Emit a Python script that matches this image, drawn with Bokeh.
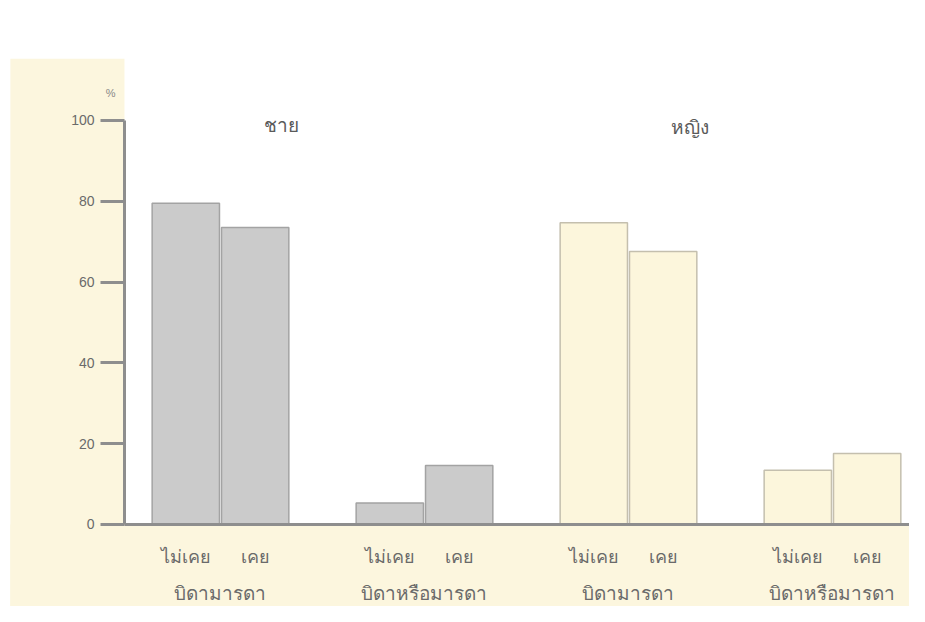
from bokeh.plotting import figure
from bokeh.models import ColumnDataSource, LabelSet, FixedTicker, Range1d, BoxAnnotation
from bokeh.core.properties import value
from bokeh.embed import file_html
from bokeh.resources import INLINE

# ---- data ----
sex = ["ชาย", "ชาย", "หญิง", "หญิง"]
parent_labels = ["บิดามารดา", "บิดาหรือมารดา", "บิดามารดา", "บิดาหรือมารดา"]
bar_labels = ["ไม่เคย", "เคย"]
never = [79.5, 5.3, 74.7, 13.4]
ever = [73.5, 14.6, 67.6, 17.6]
y_ticks = [0, 20, 40, 60, 80, 100]
sex_titles = ["ชาย", "หญิง"]
unit_label = ["%"]

# ---- styles ----
CREAM = "#fcf6de"
GREY_FILL = "#cbcbcb"
GREY_LINE = "#a3a3a3"
CREAM_FILL = "#fcf6dc"
CREAM_LINE = "#c4bfae"
AXIS = "#8e8e8e"
TEXT = "#6a6a6a"
FONT = "Liberation Sans"
THAI = "Noto Sans"

X0 = -0.4706  # where the y axis sits

group_idx = list(range(len(never)))
offset = 0.17
bw = 0.33

xs, tops, fills, lines, blabels = [], [], [], [], []
for g in group_idx:
    female = sex[g] == "หญิง"
    for k, val in enumerate([never[g], ever[g]]):
        xs.append(g + (-offset if k == 0 else offset))
        tops.append(val)
        fills.append(CREAM_FILL if female else GREY_FILL)
        lines.append(CREAM_LINE if female else GREY_LINE)
        blabels.append(bar_labels[k])

src = ColumnDataSource(dict(x=xs, top=tops, fill=fills, line=lines, lab=blabels,
                            ly=[-7.7] * len(xs)))
gsrc = ColumnDataSource(dict(x=group_idx, lab=parent_labels, ly=[-16.9] * len(group_idx)))
tsrc = ColumnDataSource(dict(x=[0.30, 2.30], y=[98.8, 98.3], lab=sex_titles))
usrc = ColumnDataSource(dict(x=[-0.539], y=[106.9], lab=unit_label))

p = figure(width=909, height=606, output_backend="svg", toolbar_location=None,
           x_range=Range1d(-1.0784, 3.3775), y_range=Range1d(-20.30, 129.70),
           min_border=0)
p.title = None
p.background_fill_color = "white"
p.border_fill_color = "white"
p.outline_line_color = None
p.grid.visible = False

# cream paper areas
p.add_layout(BoxAnnotation(left=-1.03, right=X0, top=115.3, fill_color=CREAM, fill_alpha=1,
                           line_color=None, level="underlay"))
p.add_layout(BoxAnnotation(left=-1.03, top=0, fill_color=CREAM, fill_alpha=1,
                           line_color=None, level="underlay"))

p.vbar(x="x", top="top", width=bw, source=src, fill_color="fill", line_color="line",
       line_width=1.5)

# y axis
ya = p.yaxis[0]
ya.fixed_location = X0
ya.ticker = FixedTicker(ticks=y_ticks)
ya.bounds = (0, 100)
ya.axis_line_color = AXIS
ya.axis_line_width = 3
ya.major_tick_line_color = AXIS
ya.major_tick_line_width = 3
ya.major_tick_out = 24
ya.major_tick_in = 0
ya.minor_tick_line_color = None
ya.major_label_standoff = 6
ya.major_label_text_font = FONT
ya.major_label_text_font_size = "14px"
ya.major_label_text_color = TEXT

# x axis (line only)
xa = p.xaxis[0]
xa.fixed_location = 0
xa.bounds = (X0, 3.3775)
xa.ticker = FixedTicker(ticks=[])
xa.axis_line_color = AXIS
xa.axis_line_width = 3
xa.major_tick_line_color = None
xa.minor_tick_line_color = None
xa.major_label_text_font_size = "0px"

p.add_layout(LabelSet(x="x", y="ly", text="lab", source=src, text_align="center",
                      text_baseline="middle", text_font=value(THAI),
                      text_font_size="18px", text_color=TEXT))
p.add_layout(LabelSet(x="x", y="ly", text="lab", source=gsrc, text_align="center",
                      text_baseline="middle", text_font=value(THAI),
                      text_font_size="19px", text_color=TEXT))
p.add_layout(LabelSet(x="x", y="y", text="lab", source=tsrc, text_align="center",
                      text_baseline="middle", text_font=value(THAI),
                      text_font_size="19px", text_color="#5a5a5a"))
p.add_layout(LabelSet(x="x", y="y", text="lab", source=usrc, text_align="center",
                      text_baseline="middle", text_font=value(FONT),
                      text_font_size="11px", text_color="#888888"))

open("out.html", "w").write(file_html(p, INLINE))
